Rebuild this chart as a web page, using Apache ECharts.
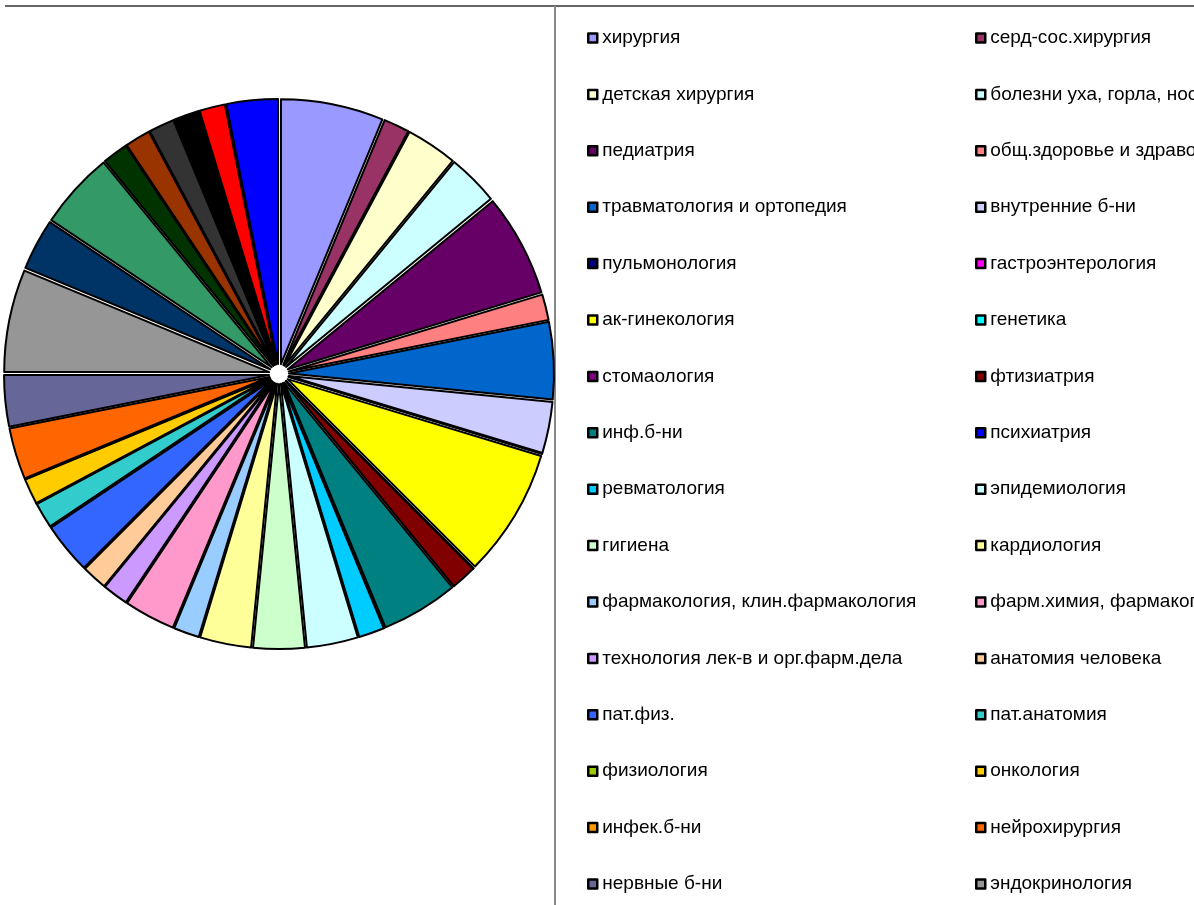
<!DOCTYPE html>
<html>
<head>
<meta charset="utf-8">
<script src="https://cdn.jsdelivr.net/npm/echarts@6/dist/echarts.min.js"></script>
<style>
    html, body { margin: 0; padding: 0; background: #fff; }
    #pie_chart { width: 1194px; height: 905px; }
</style>
</head>
<body>
<div id="pie_chart"></div>
<script>
    // кафедры (порядок по часовой стрелке от 12 часов)
    var names = [
        'хирургия', 'серд-сос.хирургия', 'детская хирургия', 'болезни уха, горла, носа',
        'педиатрия', 'общ.здоровье и здравоохранение', 'травматология и ортопедия', 'внутренние б-ни',
        'пульмонология', 'гастроэнтерология', 'ак-гинекология', 'генетика',
        'стомаология', 'фтизиатрия', 'инф.б-ни', 'психиатрия',
        'ревматология', 'эпидемиология', 'гигиена', 'кардиология',
        'фармакология, клин.фармакология', 'фарм.химия, фармакогнозия', 'технология лек-в и орг.фарм.дела', 'анатомия человека',
        'пат.физ.', 'пат.анатомия', 'физиология', 'онкология',
        'инфек.б-ни', 'нейрохирургия', 'нервные б-ни', 'эндокринология',
        // эти не попали в видимую часть легенды
        'кафедра 33', 'кафедра 34', 'кафедра 35', 'кафедра 36',
        'кафедра 37', 'кафедра 38', 'кафедра 39', 'кафедра 40'
    ];
    var values = [
        4, 1, 2, 2,
        4, 1, 3, 2,
        0, 0, 5, 0,
        0, 1, 3, 0,
        1, 2, 2, 2,
        1, 2, 1, 1,
        2, 1, 0, 1,
        0, 2, 2, 4,
        2, 3, 1, 1,
        1, 1, 1, 2
    ];
    var colors = [
        '#9999FF', '#993366', '#FFFFCC', '#CCFFFF',
        '#660066', '#FF8080', '#0066CC', '#CCCCFF',
        '#000080', '#FF00FF', '#FFFF00', '#00FFFF',
        '#800080', '#800000', '#008080', '#0000FF',
        '#00CCFF', '#CCFFFF', '#CCFFCC', '#FFFF99',
        '#99CCFF', '#FF99CC', '#CC99FF', '#FFCC99',
        '#3366FF', '#33CCCC', '#99CC00', '#FFCC00',
        '#FF9900', '#FF6600', '#666699', '#969696',
        '#003366', '#339966', '#003300', '#993300',
        '#333333', '#000000', '#FF0000', '#0000FF'
    ];
    var legendCount = 32;

    // все сектора "выдвинуты" (selected) как в Excel
    var pieData = names.map(function (n, i) {
        return { name: n, value: values[i], selected: true, itemStyle: { color: colors[i] } };
    });
    var leftCol = [], rightCol = [];
    for (var i = 0; i < legendCount; i++) {
        (i % 2 === 0 ? leftCol : rightCol).push(names[i]);
    }

    var legendBase = {
        orient: 'vertical',
        top: 28,
        padding: 0,
        itemGap: 36.4,
        itemWidth: 9,
        itemHeight: 9,
        icon: 'rect',
        selectedMode: false,
        itemStyle: { borderColor: '#000', borderWidth: 2.5 },
        textStyle: {
            color: '#000',
            fontFamily: 'Liberation Sans, Arial, sans-serif',
            fontSize: 19,
            lineHeight: 20
        }
    };

    var option = {
        animation: false,
        color: colors,
        legend: [
            Object.assign({}, legendBase, { left: 587, data: leftCol }),
            Object.assign({}, legendBase, { left: 975, data: rightCol })
        ],
        graphic: [
            { type: 'line', shape: { x1: 5, y1: 6, x2: 1194, y2: 6 }, style: { stroke: '#333', lineWidth: 1.5 } },
            { type: 'line', shape: { x1: 555, y1: 6, x2: 555, y2: 905 }, style: { stroke: '#888', lineWidth: 2 } }
        ],
        series: [{
            type: 'pie',
            center: [279, 374],
            radius: [0, 265],
            startAngle: 90,
            clockwise: true,
            selectedMode: 'multiple',
            selectedOffset: 10,
            avoidLabelOverlap: false,
            label: { show: false },
            labelLine: { show: false },
            emphasis: { disabled: true },
            itemStyle: { borderColor: '#000', borderWidth: 2 },
            select: { itemStyle: { borderColor: '#000', borderWidth: 2 } },
            data: pieData
        }]
    };

    var chartPie = echarts.init(document.getElementById('pie_chart'));
    chartPie.setOption(option);
</script>
</body>
</html>
